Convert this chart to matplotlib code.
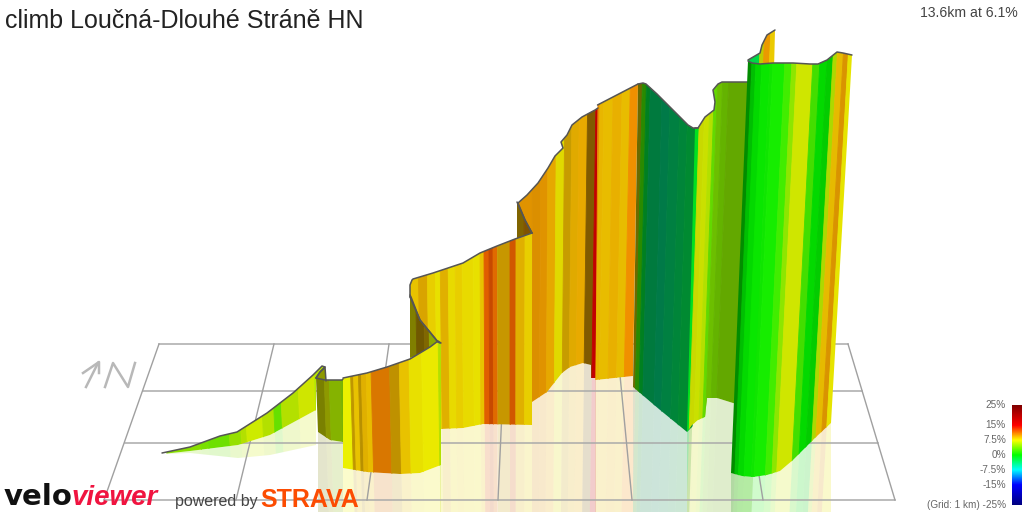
import numpy as np
import matplotlib
matplotlib.use('Agg')
import matplotlib.pyplot as plt
from matplotlib.colors import LinearSegmentedColormap, Normalize
from matplotlib.patches import Polygon

plt.rcParams['font.family'] = ['Liberation Sans', 'DejaVu Sans']

title = 'climb Loučná-Dlouhé Stráně HN'
summary = '13.6km at 6.1%'
legend_vals = [25, 15, 7.5, 0, -7.5, -15, -25]
legend_labels = ['25%', '15%', '7.5%', '0%', '-7.5%', '-15%', '(Grid: 1 km) -25%']

# low wedge at the start
a_top_x = [162, 190, 220, 237, 267, 293, 313, 322, 325, 320, 316]
a_top_y = [453, 447, 436, 432, 413, 393, 375, 366, 367, 372, 378]
a_bot_x = [162, 190, 238, 270, 316]
a_bot_y = [454, 451, 445, 435, 410]
a_low_y = [454, 453, 458, 455, 445]
a_edges = [162, 190, 198, 220, 232, 238, 255, 267, 275, 293, 310, 316]
a_grades = [4.6, 4, 3.6, 5, 6, 6.5, 6, 3.5, 6, 6.8, 6]
a_shades = [.87, .88, .88, .88, .88, .92, .88, .88, .88, .9, .9]

# small back side at the first fold
m_top_x = [316, 320, 325, 326]
m_top_y = [378, 372, 367, 381]
m_bot_x = [316, 326]
m_bot_y = [378, 381]
m_edges = [316, 326]
m_grades = [7]
m_shades = [.6]

b_top_x = [316, 325, 342, 343]
b_top_y = [378, 380, 380, 379]
b_bot_x = [316, 318, 330, 343]
b_bot_y = [378, 432, 440, 442]
b_edges = [316, 320, 325, 337, 343]
b_grades = [7.2, 7, 5.5, 5]
b_shades = [.5, .6, .7, .7]

c_top_x = [343, 367, 387, 410, 430, 438, 441]
c_top_y = [378, 373, 367, 359, 347, 341, 343]
c_bot_x = [343, 367, 400, 420, 441]
c_bot_y = [468, 472, 474, 473, 465]
c_edges = [343, 347, 350, 355, 358, 363, 368, 387, 397, 407, 420, 437, 442]
c_grades = [7.4, 9, 8.6, 9, 9, 8.8, 10.8, 9.2, 8.7, 7.8, 7.5, 6]
c_shades = [.94, .75, .91, .72, .88, .91, .85, .75, .91, .91, .92, .88]

# fold behind the first main face
d_top_x = [410, 411, 420, 438]
d_top_y = [295, 297, 320, 342]
d_bot_x = [410, 425, 438]
d_bot_y = [358, 352, 345]
d_edges = [409, 415, 423, 428, 439]
d_grades = [7.6, 9, 8.8, 6.3]
d_shades = [.5, .44, .5, .66]

e_top_x = [410, 410, 412, 413, 433, 448, 463, 480, 497, 515, 532]
e_top_y = [297, 285, 280, 279, 273, 268, 263, 253, 246, 239, 233]
e_bot_x = [410, 420, 438, 440, 440, 463, 483, 532]
e_bot_y = [297, 320, 342, 343, 429, 428, 424, 425]
e_edges = [410, 418, 427, 435, 440, 448, 455, 462, 473, 480, 484, 489, 493,
           497, 510, 516, 525, 533]
e_grades = [8.6, 9.3, 8.3, 7.7, 9, 8, 8.3, 8, 7.8, 8.6, 11.8, 12.2, 11.5, 9.3,
            11.8, 9, 8.3]
e_shades = [.91, .85, .91, .91, .88, .91, .91, .91, .91, .91, .88, .78, .88,
            .78, .82, .88, .91]

f_top_x = [517, 525, 532]
f_top_y = [202, 220, 233]
f_bot_x = [517, 532]
f_bot_y = [241, 236]
f_edges = [516, 524, 533]
f_grades = [9, 10]
f_shades = [.5, .5]

g_top_x = [518, 527, 538, 548, 555, 562, 563, 561, 567, 572, 582, 595, 598]
g_top_y = [203, 195, 183, 168, 156, 149, 148, 142, 135, 125, 117, 110, 108]
g_bot_x = [518, 525, 532, 532, 547, 562, 570, 583, 591, 591, 596]
g_bot_y = [203, 220, 233, 402, 392, 373, 367, 363, 365, 378, 378]
g_edges = [518, 532, 540, 547, 555, 563, 570, 577, 585, 593, 595.5]
g_grades = [10, 10, 10, 9.5, 7.7, 9, 9.2, 9.5, 9.6, 15]
g_shades = [.88, .86, .88, .9, .88, .78, .88, .91, .5, .76]
g_ref_y = 300

h_top_x = [597.5, 638]
h_top_y = [105, 84]
h_bot_x = [595.5, 633]
h_bot_y = [380, 376]
h_edges = [597, 600, 604, 613, 622, 630, 639]
h_grades = [10.5, 9, 8.8, 9.2, 8.8, 10.5]
h_shades = [.91, .91, .91, .91, .91, .94]

# dark green descent
i_top_x = [638, 643, 646, 657, 670, 680, 688, 693, 698]
i_top_y = [84, 83, 84, 94, 107, 117, 125, 128, 128]
i_bot_x = [633, 660, 687, 695]
i_bot_y = [387, 410, 432, 424]
i_edges = [638, 642, 646, 650, 662, 670, 680, 688, 695]
i_grades = [7.5, 2.3, -1.9, -3.9, -4.3, -3.75, -3.2, -2.6]
i_shades = [.42, .54, .5, .48, .48, .5, .52, .54]

j_top_x = [695, 698, 705, 714, 715, 713, 718, 722, 747, 760]
j_top_y = [128, 128, 117, 110, 102, 90, 84, 82, 82, 82]
j_bot_x = [687, 692, 698, 705, 706, 707, 717, 733, 760]
j_bot_y = [432, 425, 420, 417, 407, 398, 398, 403, 410]
j_edges = [695, 700, 705, 710, 714, 717, 722, 728, 762]
j_grades = [-1, 7, 6.8, 6, 3.5, 4.2, 4.2, 4.3]
j_shades = [.88, .85, .88, .88, .85, .75, .7, .66]

# spike sticking out behind the last face
k_top_x = [748, 760, 762, 767, 775]
k_top_y = [60, 53, 45, 35, 30]
k_bot_x = [750, 774]
k_bot_y = [70, 70]
k_edges = [745, 760, 764, 770, 776]
k_grades = [-2.5, 7, 10, 8.5]
k_shades = [.85, .8, .92, .92]
k_ref_y = 50

l_top_x = [748, 752, 760, 773, 793, 810, 818, 827, 837, 843, 852]
l_top_y = [61, 63, 64, 63, 63, 64, 64, 60, 52, 53, 55]
l_bot_x = [731, 742, 753, 767, 780, 793, 805, 815, 831]
l_bot_y = [473, 476, 477, 475, 471, 460, 448, 438, 423]
l_edges = [748, 752, 756, 762, 770, 773, 785, 792, 797, 813, 820, 827, 833,
           837, 843, 848, 852]
l_grades = [0, -0.1, 0, .2, .5, .7, 2, 4.5, 6.8, 2.3, 0, 0, 6, 8.8, 9.8, 7.5]
l_shades = [.55, .75, .85, .9, .9, .93, .93, .9, .9, .87, .85, .8, .85, .9, .85, .9]
l_ref_y = 60

# ground grid
grid_h_y = [344, 391, 443, 500]
grid_h_x0 = [159, 143, 125, 104]
grid_h_x1 = [848, 862, 878, 895]
grid_v_x0 = [159, 274, 389, 505, 617, 738, 848]
grid_v_x1 = [104, 236, 367, 498, 632, 763, 895]

# north marker
arrow_x = [83, 99, 99]
arrow_y = [373, 362, 373]
shaft_x = [86, 98]
shaft_y = [387, 363]
north_x = [105, 113, 128, 135]
north_y = [387, 363, 387, 363]

grade_cmap = LinearSegmentedColormap.from_list('grade', [
    (0.0, '#000080'), (0.2, '#0000ff'), (0.35, '#00ffff'), (0.5, '#00ff00'),
    (0.65, '#ffff00'), (0.8, '#ff0000'), (1.0, '#800000')])
norm = Normalize(-25, 25)

fig = plt.figure(figsize=(10.24, 5.12), dpi=100)
ax = fig.add_axes([0, 0, 1, 1])
ax.set_xlim(0, 1024)
ax.set_ylim(512, 0)
ax.axis('off')

VANISH_X = 510
VANISH_Y = 5900


def edge_x(x, y, ref_y):
    # strips lean towards one point far below the picture
    return VANISH_X + (x - VANISH_X) * (VANISH_Y - y) / (VANISH_Y - ref_y)


def strips(edges, grades, shades, ref_y, clip, alpha=1.0, z=2):
    edges = list(edges)
    edges[0] -= 8
    edges[-1] += 8
    for n in range(len(grades)):
        col = np.array(grade_cmap(norm(grades[n])))
        col[:3] = col[:3] * shades[n]
        col[3] = alpha
        x0, x1 = edges[n], edges[n + 1]
        pts = [(edge_x(x0, -50, ref_y), -50), (edge_x(x1, -50, ref_y), -50),
               (edge_x(x1, 560, ref_y), 560), (edge_x(x0, 560, ref_y), 560)]
        if alpha < 1:
            p = Polygon(pts, closed=True, facecolor=col, edgecolor='none', zorder=z)
        else:
            p = Polygon(pts, closed=True, facecolor=col, edgecolor=col, lw=0.6, zorder=z)
        ax.add_patch(p)
        p.set_clip_path(clip)


def reflection(bot_x, bot_y, edges, grades, shades, ref_y=250, low_y=None):
    if low_y is None:
        low_y = [514] * len(bot_x)
    xy = list(zip(bot_x, bot_y)) + list(zip(bot_x, low_y))[::-1]
    clip = Polygon(xy, closed=True, transform=ax.transData)
    strips(edges, grades, shades, ref_y, clip, alpha=0.2, z=1)


def face(top_x, top_y, bot_x, bot_y, edges, grades, shades, ref_y=250, z=3):
    xy = list(zip(top_x, top_y)) + list(zip(bot_x, bot_y))[::-1]
    clip = Polygon(xy, closed=True, transform=ax.transData)
    strips(edges, grades, shades, ref_y, clip, z=z)
    ax.plot(top_x, top_y, color='#555555', lw=1.1, zorder=z + 0.5, solid_capstyle='round')


# reflections on the ground
reflection(a_bot_x, a_bot_y, a_edges, a_grades, a_shades, low_y=a_low_y)
reflection(b_bot_x[1:], b_bot_y[1:], b_edges, b_grades, b_shades)
reflection(e_bot_x[4:], e_bot_y[4:], e_edges, e_grades, e_shades)
reflection(c_bot_x, c_bot_y, c_edges, c_grades, c_shades)
reflection(g_bot_x[3:], g_bot_y[3:], g_edges, g_grades, g_shades, ref_y=g_ref_y)
reflection(h_bot_x, h_bot_y, h_edges, h_grades, h_shades, ref_y=100)
reflection(i_bot_x, i_bot_y, i_edges, i_grades, i_shades, ref_y=100)
reflection(j_bot_x, j_bot_y, j_edges, j_grades, j_shades, ref_y=100)
reflection(l_bot_x, l_bot_y, l_edges, l_grades, l_shades, ref_y=l_ref_y)

# grid
for n in range(len(grid_h_y)):
    ax.plot([grid_h_x0[n], grid_h_x1[n]], [grid_h_y[n], grid_h_y[n]],
            color='#aaaaaa', lw=1.1, zorder=1.5)
for n in range(len(grid_v_x0)):
    ax.plot([grid_v_x0[n], grid_v_x1[n]], [344, 500], color='#a0a0a0', lw=1.0, zorder=1.5)

ax.plot(arrow_x, arrow_y, color='#b8b8b8', lw=1.8, zorder=1.5)
ax.plot(shaft_x, shaft_y, color='#b8b8b8', lw=1.8, zorder=1.5)
ax.plot(north_x, north_y, color='#b8b8b8', lw=1.8, zorder=1.5)

# ribbon, back to front
face(a_top_x, a_top_y, a_bot_x, a_bot_y, a_edges, a_grades, a_shades)
face(m_top_x, m_top_y, m_bot_x, m_bot_y, m_edges, m_grades, m_shades)
face(b_top_x, b_top_y, b_bot_x, b_bot_y, b_edges, b_grades, b_shades)
face(d_top_x, d_top_y, d_bot_x, d_bot_y, d_edges, d_grades, d_shades)
face(f_top_x, f_top_y, f_bot_x, f_bot_y, f_edges, f_grades, f_shades)
face(e_top_x, e_top_y, e_bot_x, e_bot_y, e_edges, e_grades, e_shades)
ax.plot(e_bot_x[:4], e_bot_y[:4], color='#555555', lw=1.1, zorder=3.5)
face(c_top_x, c_top_y, c_bot_x, c_bot_y, c_edges, c_grades, c_shades)
face(g_top_x, g_top_y, g_bot_x, g_bot_y, g_edges, g_grades, g_shades, ref_y=g_ref_y)
ax.plot(g_bot_x[:3], g_bot_y[:3], color='#555555', lw=1.1, zorder=3.5)
face(h_top_x, h_top_y, h_bot_x, h_bot_y, h_edges, h_grades, h_shades, ref_y=100)
face(i_top_x, i_top_y, i_bot_x, i_bot_y, i_edges, i_grades, i_shades, ref_y=100)
face(j_top_x, j_top_y, j_bot_x, j_bot_y, j_edges, j_grades, j_shades, ref_y=100)
face(k_top_x, k_top_y, k_bot_x, k_bot_y, k_edges, k_grades, k_shades, ref_y=k_ref_y)
face(l_top_x, l_top_y, l_bot_x, l_bot_y, l_edges, l_grades, l_shades, ref_y=l_ref_y, z=4)

# titles
ax.text(5, 28, title, fontsize=18, color='#222222', va='baseline', ha='left', zorder=6)
ax.text(1018, 13, summary, fontsize=10.1, color='#444444', va='center', ha='right', zorder=6)

# colour legend
ramp = np.linspace(25, -25, 200).reshape(-1, 1)
ax.imshow(ramp, cmap=grade_cmap, norm=norm, extent=[1012, 1022, 505, 405], aspect='auto', zorder=6)
ax.set_xlim(0, 1024)
ax.set_ylim(512, 0)
for n in range(len(legend_vals)):
    ax.text(1006, 455 - legend_vals[n] * 2, legend_labels[n], fontsize=7.2, color='#666666',
            ha='right', va='center', zorder=6)

# logos
ax.text(4, 505, 'velo', fontsize=21, family='DejaVu Sans', fontweight='bold', color='#111111',
        va='baseline', zorder=6)
ax.text(72, 505, 'viewer', fontsize=20, fontweight='bold', style='italic',
        color='#f01440', va='baseline', zorder=6)
ax.text(175, 506, 'powered by', fontsize=11.5, color='#444444', va='baseline', zorder=6)
ax.text(260, 507, 'STRAVA', fontsize=18, fontweight='bold', color='#fc4c02', va='baseline', zorder=6)

fig.savefig('out.png', dpi=100)
